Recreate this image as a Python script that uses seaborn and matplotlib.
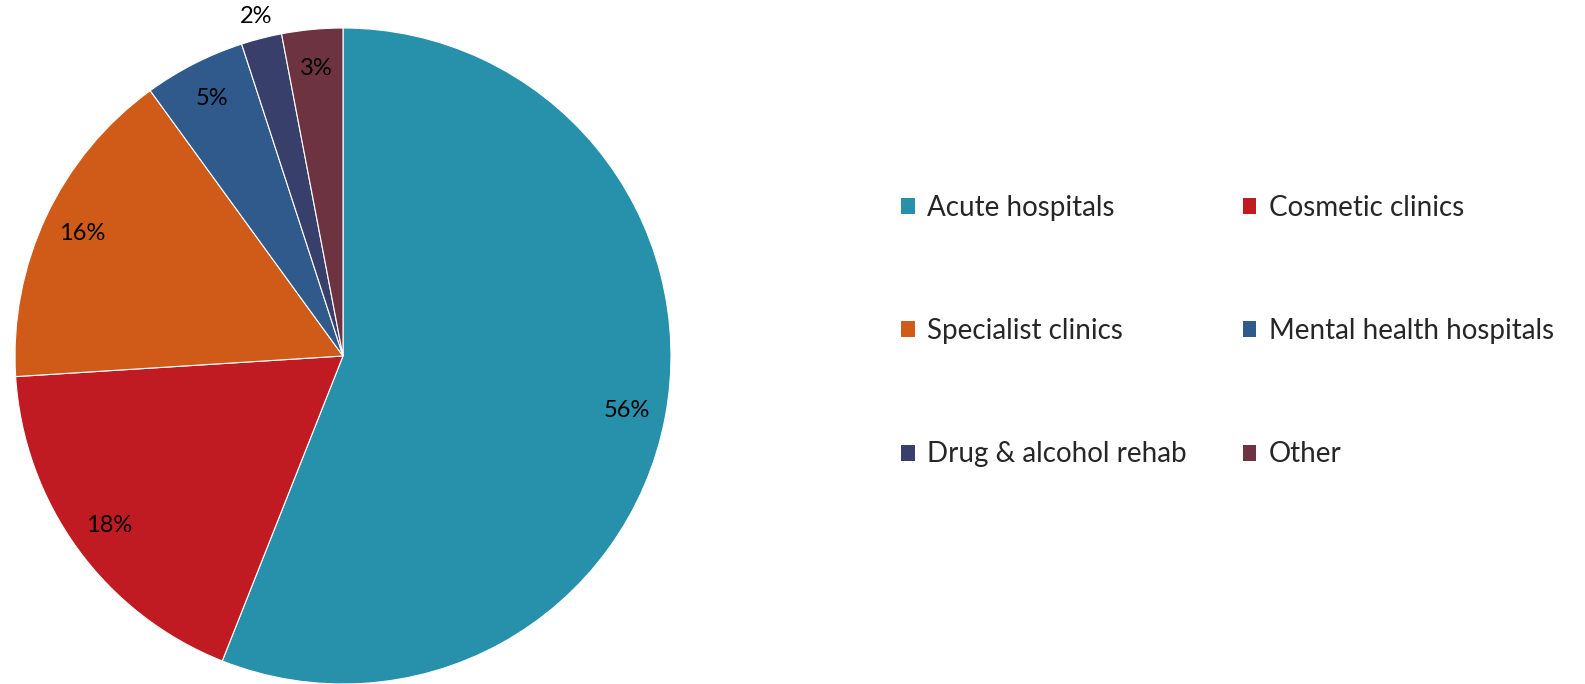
import matplotlib
matplotlib.use("Agg")
import matplotlib.pyplot as plt
import matplotlib.patches as mpatches
import numpy as np
import seaborn as sns

# Data
categories = ["Acute hospitals", "Cosmetic clinics", "Specialist clinics",
              "Mental health hospitals", "Drug & alcohol rehab", "Other"]
shares = [56, 18, 16, 5, 2, 3]
pct_labels = ["56%", "18%", "16%", "5%", "2%", "3%"]
colors = ["#2790AB", "#C01B23", "#D05A17", "#30598C", "#383F6A", "#6E3341"]

sns.set_theme(style="white")
plt.rcParams["font.family"] = ["Lato", "DejaVu Sans"]
palette = sns.color_palette(colors)

fig = plt.figure(figsize=(15.85, 6.84), dpi=100)
ax = fig.add_axes([15 / 1585, 0 / 684, 656 / 1585, 656 / 684])

wedges, texts = ax.pie(shares, colors=palette, startangle=90, counterclock=False,
                       radius=1, labels=pct_labels, labeldistance=0.88,
                       wedgeprops=dict(edgecolor="white", linewidth=0.8),
                       textprops=dict(fontsize=17, color="black"))
# the small 2% label sits outside the pie
w = wedges[4]
ang = np.deg2rad((w.theta1 + w.theta2) / 2)
texts[4].set_position((1.07 * np.cos(ang), 1.07 * np.sin(ang)))
for t in texts:
    t.set_ha("center")
    t.set_va("center")

ax.set_xlim(-1, 1)
ax.set_ylim(-1, 1)
ax.set_aspect("equal")
ax.axis("off")

# legend is filled row by row in the reference
order = [0, 2, 4, 1, 3, 5]
handles = [mpatches.Patch(facecolor=palette[i], edgecolor="none") for i in order]
labels = [categories[i] for i in order]
fig.legend(handles, labels, loc="upper left", bbox_to_anchor=(876 / 1585, 1 - 170 / 684),
           ncol=2, frameon=False, fontsize=20, handlelength=0.5, handleheight=0.5,
           handletextpad=0.45, labelspacing=3.5, columnspacing=2.0)

fig.savefig("out.png", dpi=100)
